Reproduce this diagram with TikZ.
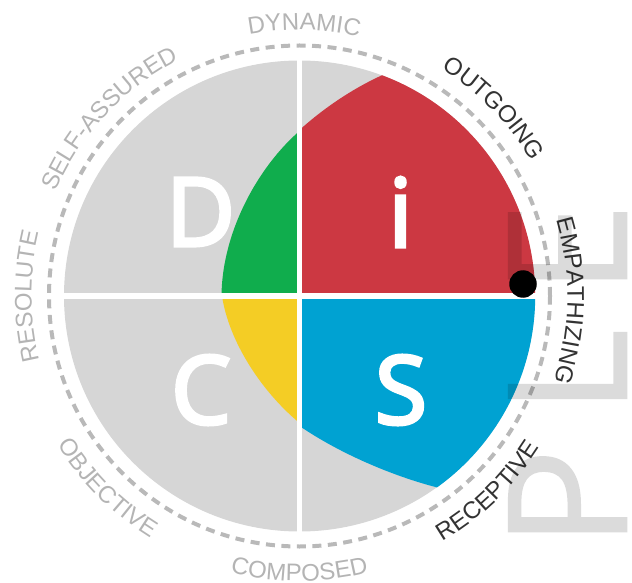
\documentclass[tikz,border=0pt]{standalone}
\usepackage{fontspec}
\setmainfont{Liberation Sans}
\newfontfamily\letterfont[FakeBold=3.5]{Open Sans}
\newfontfamily\plefont[FakeBold=1.0]{Open Sans}
\usetikzlibrary{decorations.text,calc}
\definecolor{wheelgray}{HTML}{D6D6D6}
\definecolor{dashgray}{HTML}{B9B9B9}
\definecolor{labelgray}{HTML}{B4B4B4}
\definecolor{labeldark}{HTML}{333333}
\definecolor{dred}{HTML}{CC3842}
\definecolor{dgreen}{HTML}{10AD4D}
\definecolor{dblue}{HTML}{00A2D2}
\definecolor{dyellow}{HTML}{F4CD25}
\newcommand{\lblfont}{\fontsize{24}{24}\selectfont}
\tikzset{
  quadletter/.style={text=white,font=\letterfont\fontsize{95}{95}\selectfont,inner sep=0pt},
}
\newcommand{\arctext}[5]{% color, text, radius, start, end
  \path[decorate,decoration={text along path,text align=center,text={|\lblfont\color{#1}|#2}}]
    ([shift={(#4:#3)}]c) arc[start angle=#4,end angle=#5,radius=#3];}
\begin{document}
\begin{tikzpicture}[x=1pt,y=1pt]
\useasboundingbox (0,0) rectangle (632,582);
\coordinate (c) at (299.5,286);
% wheel
\fill[wheelgray] (c) circle[radius=235.5];
\fill[dred] (c) -- (299.5,452) .. controls (325,475) and (354,494) .. ([shift={(69.5:235.7)}]c) arc[start angle=69.5,end angle=0,radius=235.7] -- cycle;
\fill[dgreen] (c) -- (221.5,286) .. controls (222,350) and (258,415) .. (299.5,451) -- cycle;
\fill[dblue] (c) -- ([shift={(0:235.7)}]c) arc[start angle=0,end angle=-54.3,radius=235.7] .. controls (400,104) and (345,125) .. (299.5,156) -- cycle;
\fill[dyellow] (c) -- (222,286) .. controls (229,240) and (262,190) .. (299.5,159) -- cycle;
\fill[white] (297,40) rectangle (302,535);
\fill[white] (55,286-3) rectangle (545,286+3);
% letters
\node[quadletter] (D) at (200.5,370) {D};
\node[quadletter] (I) at (400.5,370) {i};
\node[quadletter] (C) at (201,192) {C};
\node[quadletter] (S) at (401,192) {S};
% dashed ring
\draw[dashgray,line width=4pt,dash pattern=on 9pt off 6.5pt] (c) circle[radius=250.5];
% labels
\arctext{labelgray}{DYNAMIC}{266}{120}{58}
\arctext{labelgray}{SELF-ASSURED}{265}{177}{97}
\arctext{labeldark}{OUTGOING}{268}{75}{13}
\arctext{labeldark}{EMPATHIZING}{268}{34}{-36}
\arctext{labelgray}{RESOLUTE}{268}{215}{145}
\arctext{labelgray}{OBJECTIVE}{284}{195}{255}
\arctext{labelgray}{COMPOSED}{285}{240}{300}
\arctext{labeldark}{RECEPTIVE}{284}{-76}{-16}
% big word
\begin{scope}[transparency group,opacity=0.14]
\node[rotate=90,anchor=base west,inner sep=0pt,text=black,font=\plefont\fontsize{165}{165}\selectfont] (ple) at (626.5,34) {P\kern 34pt L\kern 34pt E};
\end{scope}
% dot
\node[circle,fill=black,minimum size=27.5pt,inner sep=0pt] (dot) at (523,298) {};
\end{tikzpicture}
\end{document}
